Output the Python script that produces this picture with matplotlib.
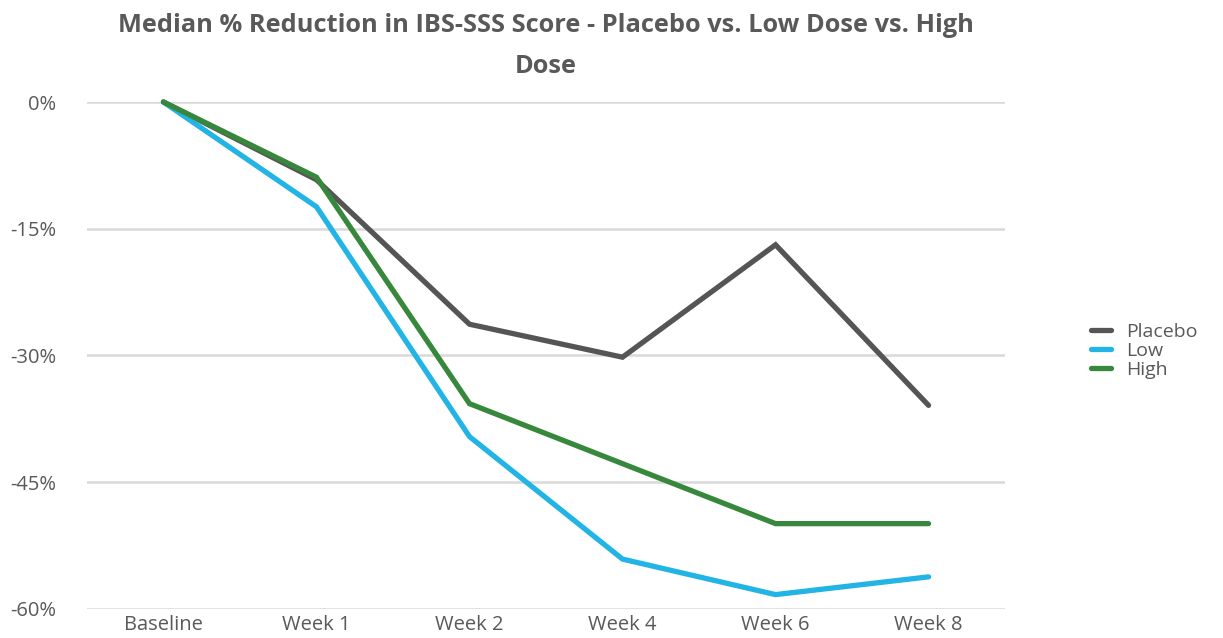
import matplotlib.pyplot as plt
from matplotlib.ticker import FuncFormatter

# data (median % change in IBS-SSS score)
timepoints = ['Baseline', 'Week 1', 'Week 2', 'Week 4', 'Week 6', 'Week 8']
placebo = [0, -9.2, -26.3, -30.2, -16.9, -35.9]
low = [0, -12.4, -39.6, -54.1, -58.3, -56.2]
high = [0, -8.9, -35.7, -42.8, -49.9, -49.9]

series_names = ['Placebo', 'Low', 'High']
colors = ['#555555', '#22B4E4', '#37883C']

plt.rcParams['font.family'] = ['Open Sans', 'DejaVu Sans']

fig = plt.figure(figsize=(12.23, 6.38), dpi=100)
ax = fig.add_axes([0.0711, 0.0455, 0.7507, 0.7946])

x = range(len(timepoints))
for vals, name, c in zip([placebo, low, high], series_names, colors):
    ax.plot(x, vals, color=c, lw=3.8, label=name, solid_capstyle='round',
            solid_joinstyle='miter', clip_on=False)

ax.set_xlim(-0.5, 5.5)
ax.set_ylim(-60, 0)
ax.set_yticks([0, -15, -30, -45, -60])
ax.yaxis.set_major_formatter(FuncFormatter(lambda v, p: f'{v:.0f}%'))
ax.set_xticks(list(x))
ax.set_xticklabels(timepoints)
ax.tick_params(length=0, labelsize=14.5, colors='#595959')
ax.tick_params(axis='y', pad=22)
ax.tick_params(axis='x', pad=4)
ax.grid(axis='y', color='#D9D9D9', lw=1.8)
ax.set_axisbelow(True)
for s in ax.spines.values():
    s.set_visible(False)

fig.text(0.4465, 0.98, 'Median % Reduction in IBS-SSS Score - Placebo vs. Low Dose vs. High\nDose',
         ha='center', va='top', fontsize=18.3, fontweight='bold', color='#595959',
         linespacing=1.85)

leg = fig.legend(loc='center left', bbox_to_anchor=(0.878, 0.45), frameon=False,
                 fontsize=14, handlelength=1.0, handletextpad=0.8, labelspacing=0.05)
for t in leg.get_texts():
    t.set_color('#595959')

fig.savefig('out.png', dpi=100)
